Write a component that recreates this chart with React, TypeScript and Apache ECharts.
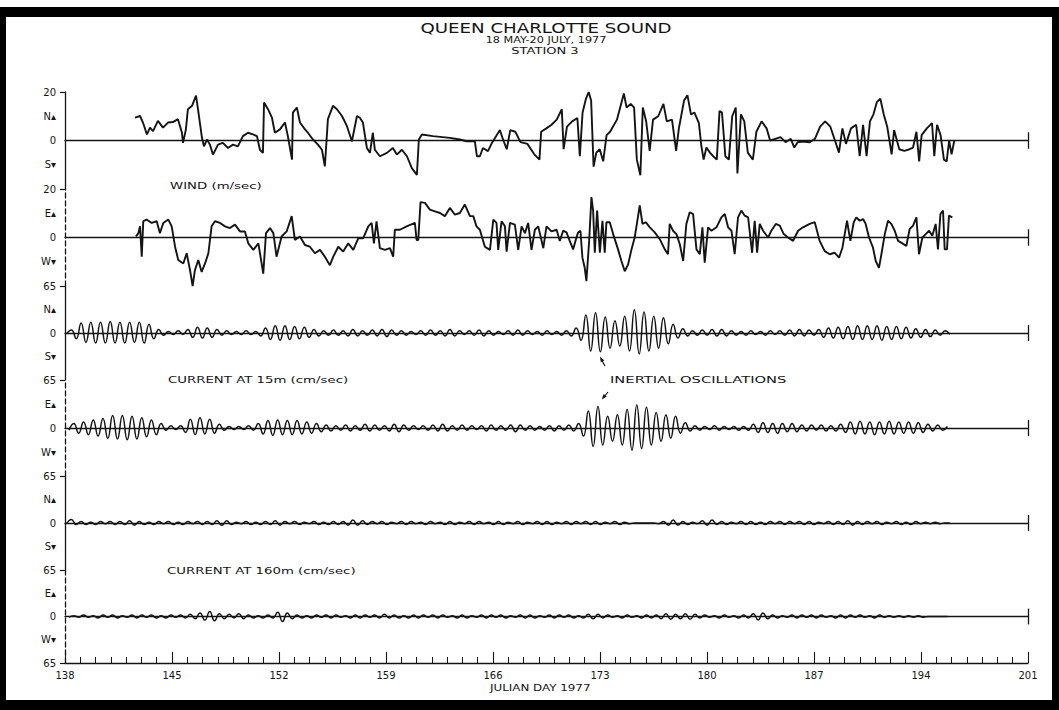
import React, { useEffect, useRef } from "react";
import * as echarts from "echarts";

// ---------- texts ----------
const TITLE = "QUEEN CHARLOTTE SOUND";
const SUBTITLE = "18 MAY-20 JULY, 1977";
const STATION = "STATION 3";
const X_LABEL = "JULIAN DAY 1977";
const WIND_LABEL = "WIND (m/sec)";
const CUR15_LABEL = "CURRENT AT 15m (cm/sec)";
const CUR160_LABEL = "CURRENT AT 160m (cm/sec)";
const NOTE_LABEL = "INERTIAL OSCILLATIONS";

// ---------- axes ----------
const X_MIN = 138;
const X_MAX = 201;
const X_STEP = 7;
const panelDirs = [["N", "S"], ["E", "W"], ["N", "S"], ["E", "W"], ["N", "S"], ["E", "W"]];
const panelRanges = [20, 20, 65, 65, 65, 65];

// ---------- wind (m/s), [julian day, value] ----------
const windN: [number, number][] = [
  [142.58, 9.4], [142.91, 10.1], [143.1, 7.4], [143.36, 2.5], [143.56, 5.3], [143.76, 3.9], [144.08, 8.1], [144.41, 5.3],
  [144.74, 7.4], [145.06, 7.6], [145.39, 8.8], [145.65, 3.2], [145.72, -1], [145.91, 4.6], [146.04, 12.9], [146.31, 14.3],
  [146.57, 18.5], [146.7, 12.9], [146.96, 1.1], [147.09, -2.4], [147.29, 0.4], [147.48, -1.7], [147.68, -5.8], [148.01, -1.7],
  [148.33, -1], [148.66, -3.1], [148.99, -1.7], [149.31, -2.4], [149.64, 1.8], [149.97, 3.2], [150.3, 2.5], [150.56, 1.8],
  [150.75, -3.8], [150.95, -5.1], [151.02, 15.7], [151.28, 12.9], [151.54, 9.4], [151.73, 3.2], [152.06, 4.6], [152.39, 7.4],
  [152.58, 1.8], [152.85, -7.9], [152.91, 11.5], [153.17, 13.6], [153.37, 7.4], [153.7, 4.6], [153.89, 3.2], [154.22, 0.4],
  [154.55, -1.7], [154.81, -3.8], [155.0, -10.7], [155.2, 8.8], [155.53, 14.3], [155.79, 12.9], [156.12, 10.1], [156.44, 6],
  [156.77, -0.3], [157.1, 10.1], [157.29, 9.4], [157.49, 7.4], [157.75, -3.1], [157.95, -5.1], [158.14, 3.2], [158.27, -3.8],
  [158.6, -6.5], [159.06, -5.1], [159.45, -3.1], [159.71, -5.8], [160.04, -3.8], [160.37, -6.5], [160.69, -11.4], [161.02, -14.2],
  [161.15, 0.4], [161.35, 2.5], [162.07, 1.8], [163.18, 1.1], [163.83, 0.4], [164.29, -0.3], [164.81, -0.3], [164.95, -6.5],
  [165.14, -6.5], [165.34, -3.1], [165.67, -4.4], [165.93, -1], [166.45, 4.3], [166.68, 0], [166.9, -3.6], [167.13, 4.3],
  [167.46, 3.6], [167.8, -0.7], [168.25, -1.4], [168.7, -5.7], [169.04, -7.9], [169.15, 3.6], [169.49, 5.0], [169.83, 6.5],
  [170.17, 8.6], [170.5, 12.9], [170.62, -3.6], [170.84, 5.7], [171.18, 7.9], [171.52, 9.3], [171.68, -6.5], [171.86, 11.5],
  [172.08, 17.2], [172.26, 20], [172.42, 16.5], [172.58, -10.8], [172.76, -5.0], [172.98, -3.6], [173.21, -8.6], [173.43, 2.2],
  [173.66, 3.6], [174.11, 8.6], [174.56, 19.4], [174.74, 13.6], [175.01, 15.1], [175.23, 13.6], [175.41, -7.9], [175.64, -14.3],
  [175.8, 13.6], [176.02, 7.9], [176.25, -4.3], [176.47, 8.6], [176.81, 10.0], [177.15, 15.1], [177.37, 7.9], [177.71, 8.6],
  [177.98, -4.3], [178.16, 5.0], [178.5, 16.5], [178.72, 18.7], [178.95, 10.8], [179.18, 11.5], [179.47, 7.2], [179.63, -2.2],
  [179.78, -7.9], [179.96, -2.9], [180.19, -5.0], [180.41, -6.5], [180.64, -7.9], [180.82, 12.2], [180.98, 11.5], [181.2, -6.5],
  [181.43, -7.9], [181.65, 10.0], [181.88, 13.6], [181.99, -13.6], [182.22, 10.8], [182.44, 7.9], [182.67, -5.0], [183.0, -7.9],
  [183.23, 3.6], [183.57, 7.9], [183.9, 5.0], [184.13, 0], [184.47, 0.7], [184.81, 1.4], [185.14, -0.7], [185.48, 0.7],
  [185.71, -2.9], [185.93, -0.7], [186.27, -0.4], [186.72, -0.7], [187.06, 0.7], [187.4, 5.7], [187.73, 7.9], [188.07, 5.7],
  [188.41, -0.7], [188.63, -5.0], [188.86, 5.0], [189.09, -1.4], [189.42, 5.0], [189.76, 6.5], [189.99, -6.5], [190.21, 6.5],
  [190.44, -6.5], [190.66, 7.9], [190.89, 10.8], [191.11, 15.8], [191.34, 17.2], [191.56, 10.8], [191.79, 5.7], [192.08, -5.7],
  [192.24, 4.3], [192.58, -3.6], [192.91, -4.3], [193.25, -3.6], [193.48, -2.9], [193.7, 3.6], [193.88, -8.6], [194.04, 2.2],
  [194.38, 5.0], [194.72, 7.2], [194.87, -6.5], [195.05, 6.5], [195.28, 2.2], [195.5, -7.9], [195.68, -8.6], [195.84, 0],
  [196.0, -5.7], [196.18, 0]
];

const windE: [number, number][] = [
  [142.64, 0.4], [142.8, 1.8], [142.91, 4.6], [143.02, -7.9], [143.12, 6.7], [143.34, 7.4], [143.67, 6], [144.0, 6.7],
  [144.21, 1.8], [144.43, 6], [144.76, 7.4], [144.98, 4.6], [145.2, -3.8], [145.41, -9.3], [145.74, -10.7], [145.96, -6.5],
  [146.18, -13.5], [146.35, -20], [146.5, -13.5], [146.72, -9.3], [146.94, -14.2], [147.16, -10.7], [147.38, -6.5], [147.59, 4.6],
  [147.81, 6.7], [148.14, 6], [148.47, 4.6], [148.79, 3.9], [149.12, 5.3], [149.45, 2.5], [149.77, 2.5], [149.99, -2.4],
  [150.32, -5.1], [150.65, -2.4], [150.97, -14.9], [151.15, 1.8], [151.41, 3.9], [151.63, 1.8], [151.84, -7.9], [152.17, 0.4],
  [152.5, 2.5], [152.83, 8.8], [153.04, -1], [153.37, 0.4], [153.7, -3.1], [154.02, -3.8], [154.35, -6.5], [154.68, -5.1],
  [155.0, -7.9], [155.33, -11.4], [155.55, -7.9], [155.88, -3.8], [156.2, -5.8], [156.53, -2.4], [156.86, -5.1], [157.19, -0.3],
  [157.51, -0.3], [157.84, 4.6], [158.06, 6], [158.21, -2.4], [158.38, 6.7], [158.6, -4.4], [158.93, -5.1], [159.26, -4.4],
  [159.47, -7.9], [159.58, 3.2], [159.91, 3.2], [160.35, 4.6], [160.89, 6], [161.0, -1], [161.11, -1], [161.26, 14.6],
  [161.55, 14.3], [161.87, 11.5], [162.2, 10.8], [162.53, 10.1], [162.85, 8.8], [163.18, 12.2], [163.51, 9.4], [163.83, 10.1],
  [164.16, 13.6], [164.49, 8.8], [164.71, 8.8], [164.92, 4.6], [165.14, 3.2], [165.47, -3.8], [165.8, -5.1], [166.02, 7.4],
  [166.23, 6], [166.34, -5.1], [166.56, 6.7], [166.78, 4.6], [166.89, -5.8], [167.11, 6], [167.43, 5.3], [167.65, -5.1],
  [167.87, 4.6], [168.09, 1.8], [168.3, 6], [168.52, -5.1], [168.74, 3.2], [168.96, 4.6], [169.29, -4.4], [169.5, 4.6],
  [169.83, 2.5], [170.16, 3.2], [170.37, -1.4], [170.59, 2.8], [170.81, 2.1], [171.02, -1.4], [171.24, -4.9], [171.46, 0],
  [171.57, 2.1], [171.72, 2.8], [171.85, -8.3], [172.0, -12.5], [172.11, -18], [172.29, -1.4], [172.44, 16.7], [172.55, 11.1],
  [172.66, -6.3], [172.81, 11.1], [172.99, -6.3], [173.16, 6.9], [173.31, -6.3], [173.42, 6.3], [173.64, 6.3], [173.86, 1.4],
  [174.18, -4.9], [174.4, -9.7], [174.62, -13.9], [174.84, -11.1], [175.06, -4.9], [175.27, 0], [175.43, 6.3], [175.6, 13.2],
  [175.78, 5.6], [175.99, 6.3], [176.26, 4.2], [176.58, 2.1], [176.91, -0.7], [177.24, -4.9], [177.45, -6.9], [177.56, 5.6],
  [177.78, 2.8], [178.0, 1.4], [178.22, -2.8], [178.44, -9.7], [178.65, 5.6], [178.87, 10.4], [179.09, 9.7], [179.31, -4.9],
  [179.53, -6.9], [179.7, 4.2], [179.85, -10.4], [180.07, 4.2], [180.29, 2.8], [180.62, 4.2], [180.94, 8.3], [181.16, 9.7],
  [181.38, 4.2], [181.6, 2.8], [181.81, -6.9], [182.03, 8.3], [182.25, 11.1], [182.47, 9], [182.69, 8.3], [182.95, -6.3],
  [183.12, 6.9], [183.28, -6.3], [183.45, 5.6], [183.67, 2.8], [184.0, 0], [184.21, 2.8], [184.5, 5.6], [184.76, 4.9],
  [185.02, 1.4], [185.3, 0], [185.63, -1.4], [185.96, 2.8], [186.28, 4.2], [186.72, 5.6], [187.05, 6.3], [187.37, -1.4],
  [187.7, -5.6], [188.03, -6.9], [188.36, -6.3], [188.64, -8.3], [188.86, -4.2], [189.01, 1.4], [189.16, 6.9], [189.38, -1.4],
  [189.6, 6.3], [189.77, 8.3], [189.99, 6.9], [190.21, 7.6], [190.38, 5.6], [190.6, 0], [190.86, -4.2], [191.04, -9.7],
  [191.25, -12.5], [191.41, -6.9], [191.63, 1.4], [191.84, 6.9], [192.06, 5.6], [192.28, 2.8], [192.5, -1.4], [192.71, -2.1],
  [193.04, -3.5], [193.26, 3.5], [193.48, 4.9], [193.7, 8.3], [193.87, -6.9], [194.09, 0], [194.31, 1.4], [194.53, 2.8],
  [194.74, 0.7], [194.96, 5.6], [195.11, -4.9], [195.27, 9.7], [195.44, 11.1], [195.55, -4.9], [195.7, -4.9], [195.83, 9],
  [196.05, 8.3]
];

// ---------- currents (cm/s): successive peaks/troughs, one every half inertial period ----------
const CUR_HALF_PERIOD = 0.3175; // days
const CUR_N_START = 138.1;
const CUR_E_START = 138.26;

const cur15N = [
  -1, 4, -8, 14, -13, 15, -14, 15, -14, 16, -14, 15, -14, 15, -13, 15, -14, 12, -8, 5,
  -3, 2, -2, 3, -2, 5, -6, 8, -7, 7, -6, 5, -3, 3, -2, 2, -2, 3, -2, 2,
  -4, 7, -9, 10, -10, 10, -9, 9, -8, 8, -6, 5, -4, 3, -3, 4, -3, 3, -4, 5,
  -4, 3, -3, 4, -4, 5, -5, 4, -3, 3, -3, 2, -2, 3, -3, 4, -3, 3, -4, 5,
  -4, 3, -2, 3, -3, 4, -4, 3, -3, 2, -2, 3, -3, 4, -3, 3, -2, 2, -3, 3,
  -2, 2, -3, 3, -4, 7, -10, 25, -25, 28, -26, 22, -21, 17, -18, 23, -25, 32, -29, 29,
  -25, 23, -21, 21, -15, 12, -7, 6, -4, 3, -3, 4, -3, 5, -4, 5, -4, 3, -3, 2,
  -3, 3, -2, 2, -3, 3, -2, 3, -3, 4, -4, 5, -4, 4, -3, 5, -6, 7, -7, 8,
  -8, 9, -9, 10, -9, 10, -9, 10, -10, 9, -9, 9, -8, 8, -7, 6, -6, 5, -5, 4, -3, 3, -2
];

const cur15E = [
  -3, 6, -7, 8, -9, 11, -11, 13, -14, 17, -15, 17, -16, 16, -15, 14, -12, 11, -9, 6,
  -3, 3, -2, 3, -6, 12, -9, 14, -8, 12, -7, 5, -3, 2, -2, 2, -2, 3, -3, 6,
  -8, 10, -10, 11, -9, 10, -9, 10, -8, 8, -7, 6, -5, 4, -4, 3, -3, 4, -4, 3,
  -3, 5, -4, 4, -3, 3, -4, 5, -5, 4, -3, 3, -2, 3, -3, 4, -4, 5, -4, 3,
  -3, 4, -3, 3, -2, 3, -4, 4, -3, 3, -3, 4, -5, 4, -3, 3, -3, 2, -3, 3,
  -4, 3, -3, 4, -4, 6, -11, 23, -25, 29, -23, 16, -18, 18, -23, 25, -30, 31, -28, 28,
  -23, 21, -18, 18, -14, 16, -7, 7, -4, 3, -3, 2, -2, 3, -3, 2, -2, 2, -3, 2,
  -3, 5, -6, 7, -6, 6, -7, 6, -5, 6, -5, 4, -4, 4, -3, 4, -4, 3, -4, 5,
  -6, 8, -8, 9, -8, 8, -9, 8, -8, 9, -8, 8, -7, 8, -7, 7, -6, 5, -4, 4, -3, 2
];

const cur160N = [
  -1, 5, -2, 2, -2, 1, -2, 2, -1, 2, -2, 2, -2, 3, -3, 2, -2, 1, -2, 2,
  -1, 2, -2, 1, -2, 2, -1, 2, -2, 2, -2, 3, -3, 3, -2, 1, -1, 2, -2, 1,
  -2, 2, -2, 3, -3, 2, -1, 2, -2, 1, -1, 2, -2, 1, -2, 2, -2, 2, -3, 4,
  -3, 3, -2, 2, -1, 2, -2, 1, -1, 2, -2, 2, -1, 1, -2, 2, -1, 1, -2, 2,
  -2, 1, -1, 2, -2, 2, -1, 1, -2, 2, -2, 1, -1, 2, -2, 1, -1, 2, -2, 2,
  -2, 1, -1, 2, -2, 2, -1, 2, -2, 2, -2, 1, -1, 2, -2, 1, -1, 0, 0, 0,
  0, 0, -1, 2, -3, 4, -3, 2, -2, 1, -1, 3, -3, 4, -2, 2, -2, 1, -1, 2,
  -2, 2, -2, 1, -2, 2, -1, 2, -2, 2, -1, 2, -2, 2, -2, 1, -1, 2, -2, 2,
  -2, 3, -3, 2, -2, 2, -1, 2, -2, 1, -1, 2, -2, 1, -2, 2, -1, 1, -1, 1, -1, 0, 0
];

const cur160E = [
  -1, 1, -1, 2, -1, 1, -2, 2, -1, 2, -2, 1, -1, 2, -2, 2, -1, 2, -2, 1,
  -2, 2, -1, 2, -2, 3, -3, 5, -5, 7, -6, 4, -3, 3, -2, 4, -3, 2, -2, 1,
  -2, 2, -2, 6, -7, 5, -3, 2, -2, 1, -2, 2, -1, 2, -2, 2, -1, 1, -2, 2,
  -2, 2, -1, 2, -2, 3, -2, 2, -2, 1, -2, 2, -2, 2, -1, 2, -2, 2, -1, 1,
  -2, 2, -2, 1, -1, 2, -2, 2, -1, 2, -2, 1, -1, 2, -2, 2, -2, 1, -1, 2,
  -2, 2, -1, 2, -2, 1, -2, 3, -3, 3, -2, 2, -1, 1, -2, 2, -1, 1, -2, 2,
  -2, 2, -3, 4, -4, 3, -3, 4, -4, 3, -2, 2, -1, 1, -2, 2, -1, 1, -2, 2,
  -2, 4, -5, 5, -3, 2, -2, 1, -1, 2, -2, 2, -1, 2, -2, 2, -1, 1, -2, 2,
  -2, 2, -1, 2, -1, 1, -2, 2, -1, 1, -1, 1, -1, 1, -1, 1, -1, 0, 0, 0, 0, 0
];

// ---------- layout (pixels) ----------
const W = 1059;
const H = 710;
const PLOT_LEFT = 65;
const PLOT_RIGHT = 1028;
const PANEL_TOPS = [92, 189, 286, 380, 476, 570];
const PANEL_BOTTOMS = [189, 286, 380, 476, 570, 663];
const FONT = "DejaVu Sans";
const INK = "#141414";

function regular(values: number[], start: number, step: number): [number, number][] {
  return values.map((v, i) => [start + i * step, v]);
}

export default function App() {
  const ref = useRef<HTMLDivElement>(null);

  useEffect(() => {
    if (!ref.current) return;
    const chart = echarts.init(ref.current, null, { renderer: "svg", width: W, height: H });

    const seriesData: [number, number][][] = [
      windN,
      windE,
      regular(cur15N, CUR_N_START, CUR_HALF_PERIOD),
      regular(cur15E, CUR_E_START, CUR_HALF_PERIOD),
      regular(cur160N, CUR_N_START, CUR_HALF_PERIOD),
      regular(cur160E, CUR_E_START, CUR_HALF_PERIOD),
    ];

    const grids = PANEL_TOPS.map((t, k) => ({
      left: PLOT_LEFT,
      width: PLOT_RIGHT - PLOT_LEFT,
      top: t,
      height: PANEL_BOTTOMS[k] - t,
    }));

    const xAxes: any[] = PANEL_TOPS.map((_, k) => ({
      type: "value",
      gridIndex: k,
      min: X_MIN,
      max: X_MAX,
      position: "top",
      axisLine: { show: true, onZero: true, lineStyle: { color: INK, width: 1.4 } },
      axisTick: { show: false },
      axisLabel: { show: false },
      splitLine: { show: false },
    }));
    xAxes.push({
      type: "value",
      gridIndex: 5,
      min: X_MIN,
      max: X_MAX,
      interval: X_STEP,
      position: "bottom",
      axisLine: { show: true, onZero: false, lineStyle: { color: INK, width: 1.3 } },
      axisTick: { show: true, inside: true, length: 11, lineStyle: { color: INK, width: 1.1 } },
      minorTick: { show: true, splitNumber: 7, length: 6, lineStyle: { color: INK, width: 1 } },
      axisLabel: { show: true, color: INK, fontFamily: FONT, fontSize: 10, margin: 7 },
      splitLine: { show: false },
      minorSplitLine: { show: false },
    });

    const yAxes = PANEL_TOPS.map((_, k) => {
      const R = panelRanges[k];
      const [up, down] = panelDirs[k];
      const ticks = k === 5 ? [R, -R] : [R];
      return {
        type: "value",
        gridIndex: k,
        min: -R,
        max: R,
        interval: R / 2,
        axisLine: {
          show: true,
          onZero: false,
          lineStyle: { color: INK, width: 1.3, type: k % 2 === 0 ? "solid" : [5, 3] },
        },
        axisTick: { show: true, customValues: ticks, length: 5, lineStyle: { color: INK, width: 1.2 } },
        axisLabel: {
          show: true,
          color: INK,
          fontFamily: FONT,
          fontSize: 10,
          margin: 9,
          formatter: (v: number) => {
            if (Math.abs(v - R) < 1e-6) return String(R);
            if (Math.abs(v) < 1e-6) return "0";
            if (Math.abs(v - R / 2) < 1e-6) return up + "\u25B4";
            if (Math.abs(v + R / 2) < 1e-6) return down + "\u25BE";
            if (k === 5 && Math.abs(v + R) < 1e-6) return String(R);
            return "";
          },
        },
        splitLine: { show: false },
      };
    });

    const series = seriesData.map((data, k) => {
      const R = panelRanges[k];
      const endTick = R * 0.17;
      return {
        type: "line",
        xAxisIndex: k,
        yAxisIndex: k,
        data,
        showSymbol: false,
        symbol: "none",
        smooth: k >= 2 ? 0.5 : false,
        lineStyle: { color: INK, width: k < 2 ? 1.9 : 1.5 },
        silent: true,
        markLine: {
          silent: true,
          symbol: ["none", "none"],
          label: { show: false },
          lineStyle: { color: INK, width: 1.3, type: "solid" },
          data: [[{ coord: [X_MAX, -endTick] }, { coord: [X_MAX, endTick] }]],
        },
      };
    });

    const txt = (text: string, x: number, y: number, size: number, sx: number, align = "left") => ({
      type: "text",
      x,
      y,
      scaleX: sx,
      silent: true,
      style: { text, fontFamily: FONT, fontSize: size, fill: INK, align, verticalAlign: "middle" },
    });

    const graphic: any[] = [
      // frame
      { type: "rect", shape: { x: 0, y: 7, width: W, height: 10 }, style: { fill: "#000" }, silent: true },
      { type: "rect", shape: { x: 0, y: 7, width: 6, height: H - 7 }, style: { fill: "#000" }, silent: true },
      { type: "rect", shape: { x: W - 7, y: 7, width: 7, height: H - 7 }, style: { fill: "#000" }, silent: true },
      { type: "rect", shape: { x: 0, y: H - 10, width: W, height: 10 }, style: { fill: "#000" }, silent: true },
      // titles
      txt(TITLE, 546, 28, 14, 1.3, "center"),
      txt(SUBTITLE, 546, 40, 9, 1.25, "center"),
      txt(STATION, 545, 51, 9, 1.45, "center"),
      txt(WIND_LABEL, 170, 186, 9.5, 1.4),
      txt(CUR15_LABEL, 168, 380, 9.5, 1.4),
      txt(NOTE_LABEL, 610, 380, 9.5, 1.55),
      txt(CUR160_LABEL, 167, 571, 9.5, 1.4),
      txt(X_LABEL, 490, 688, 9.5, 1.25),
      // arrows to the inertial oscillations
      { type: "line", shape: { x1: 605, y1: 366, x2: 601, y2: 359 }, style: { stroke: INK, lineWidth: 1.2 }, silent: true },
      { type: "polygon", shape: { points: [[600, 356.5], [604.3, 360.4], [600.8, 362.3]] }, style: { fill: INK }, silent: true },
      { type: "line", shape: { x1: 608, y1: 392, x2: 604, y2: 397 }, style: { stroke: INK, lineWidth: 1.2 }, silent: true },
      { type: "polygon", shape: { points: [[601.8, 399.5], [606.8, 396.5], [603.6, 393.9]] }, style: { fill: INK }, silent: true },
    ];

    chart.setOption({
      animation: false,
      backgroundColor: "#ffffff",
      grid: grids,
      xAxis: xAxes,
      yAxis: yAxes,
      series,
      graphic,
    });

    return () => {
      chart.dispose();
    };
  }, []);

  return (
    <div
      ref={ref}
      style={{ position: "fixed", left: 0, top: 0, width: W, height: H, background: "#fff" }}
    />
  );
}
